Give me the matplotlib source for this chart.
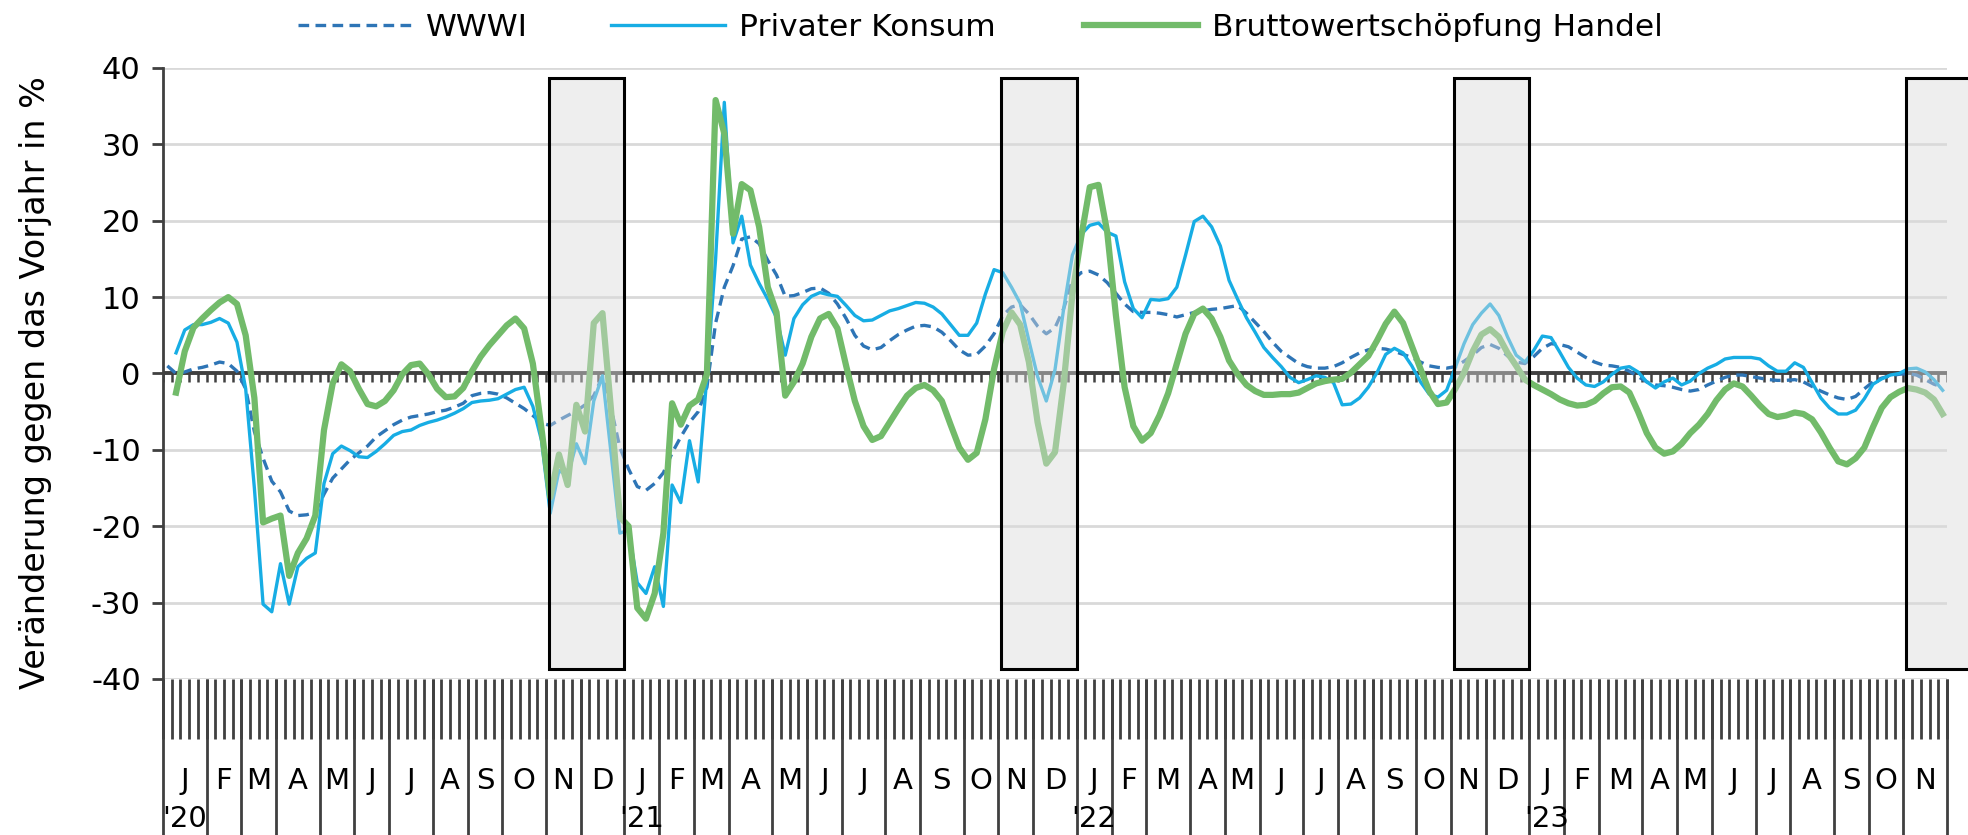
import numpy as np
import pandas as pd
import matplotlib
matplotlib.use('Agg')
import matplotlib.pyplot as plt
from matplotlib.patches import Rectangle
from matplotlib.lines import Line2D

plt.rcParams['font.family'] = ['DejaVu Sans']
plt.rcParams['axes.unicode_minus'] = False

# weekly data, ISO weeks from KW1/2020 to KW48/2023
first_week = '2019-12-30'
n_weeks = 205
month_letters = ['J', 'F', 'M', 'A', 'M', 'J', 'J', 'A', 'S', 'O', 'N', 'D']
year_labels = {2020: "'20", 2021: "'21", 2022: "'22", 2023: "'23"}
shaded_months = [11, 12]
series_names = ['WWWI', 'Privater Konsum', 'Bruttowertschöpfung Handel']

wwwi = [
	1.0, 0.0, 0.2, 0.6, 0.8, 1.1, 1.5, 1.3, 0.3, -2.0,
	-7.6, -11.1, -14.1, -15.5, -18.0, -18.6, -18.5, -18.2, -15.8, -13.7,
	-12.5, -11.3, -10.4, -9.5, -8.3, -7.5, -6.7, -6.1, -5.7, -5.5,
	-5.3, -5.0, -4.8, -4.4, -3.9, -2.9, -2.6, -2.5, -2.7, -3.2,
	-3.9, -4.6, -5.5, -6.5, -6.8, -6.1, -5.5, -4.9, -4.1, -2.9,
	-0.4, -4.6, -9.7, -12.5, -14.8, -15.3, -14.4, -13.0, -10.4, -8.3,
	-6.4, -5.0, -1.8, 6.6, 11.3, 14.1, 17.6, 17.9, 17.0, 14.8,
	12.9, 10.1, 10.2, 10.6, 11.1, 11.2, 10.5, 9.1, 7.2, 5.0,
	3.6, 3.1, 3.4, 4.3, 5.1, 5.7, 6.2, 6.3, 6.1, 5.4,
	4.3, 3.1, 2.4, 2.5, 3.6, 5.2, 7.6, 8.7, 9.0, 7.8,
	6.2, 5.2, 6.0, 8.5, 12.2, 13.2, 13.4, 12.9, 11.9, 10.5,
	9.1, 8.1, 8.0, 8.0, 7.9, 7.7, 7.4, 7.7, 8.0, 8.2,
	8.4, 8.5, 8.7, 8.9, 7.9, 6.7, 5.5, 4.1, 2.9, 2.1,
	1.3, 0.9, 0.7, 0.7, 0.9, 1.4, 2.1, 2.7, 3.1, 3.3,
	3.2, 2.9, 2.5, 2.1, 1.5, 1.0, 0.8, 0.7, 0.9, 1.6,
	2.4, 3.4, 3.8, 3.3, 2.3, 1.5, 1.3, 2.2, 3.3, 3.9,
	3.8, 3.5, 2.8, 2.1, 1.5, 1.1, 1.0, 0.8, 0.3, -0.4,
	-1.1, -1.5, -1.6, -1.8, -2.1, -2.3, -2.1, -1.5, -1.0, -0.5,
	-0.2, -0.2, -0.4, -0.6, -0.8, -0.9, -0.9, -0.8, -1.1, -1.7,
	-2.3, -2.8, -3.2, -3.4, -3.0, -2.0, -1.1, -0.6, -0.3, -0.1,
	0.0, -0.2, -0.8, -1.4, -1.8,
]

konsum = [
	np.nan, 2.7, 5.7, 6.4, 6.4, 6.7, 7.2, 6.6, 4.1, -2.0,
	-15.0, -30.2, -31.2, -24.9, -30.2, -25.3, -24.2, -23.5, -14.4, -10.5,
	-9.5, -10.1, -10.9, -11.0, -10.2, -9.2, -8.1, -7.6, -7.4, -6.8,
	-6.4, -6.1, -5.7, -5.2, -4.6, -3.8, -3.6, -3.5, -3.3, -2.7,
	-2.1, -1.8, -4.3, -8.8, -18.3, -12.7, -13.4, -9.2, -11.8, -3.6,
	-0.3, -10.6, -20.9, -20.5, -27.4, -28.8, -25.3, -30.5, -14.6, -16.9,
	-8.8, -14.2, -0.4, 15.0, 35.5, 17.1, 20.6, 14.2, 11.8, 9.7,
	7.3, 2.4, 7.2, 9.0, 10.1, 10.6, 10.3, 10.1, 8.9, 7.6,
	6.9, 7.0, 7.6, 8.2, 8.5, 8.9, 9.3, 9.2, 8.7, 7.8,
	6.4, 5.0, 5.0, 6.6, 10.4, 13.6, 13.2, 11.3, 9.2, 4.3,
	-0.4, -3.6, 0.5, 8.5, 15.5, 18.2, 19.4, 19.7, 18.5, 18.0,
	12.0, 8.5, 7.3, 9.7, 9.6, 9.8, 11.3, 15.5, 19.9, 20.6,
	19.2, 16.7, 12.2, 9.7, 7.3, 5.4, 3.4, 2.1, 0.9, -0.5,
	-1.2, -0.8, -0.3, -0.5, -1.2, -4.1, -4.0, -3.2, -1.8, 0.1,
	2.5, 3.3, 2.7, 1.0, -1.1, -2.7, -3.1, -2.2, 0.8, 3.9,
	6.4, 7.9, 9.1, 7.6, 4.8, 2.4, 1.5, 3.0, 4.9, 4.7,
	2.8, 0.8, -0.6, -1.5, -1.7, -1.1, -0.1, 0.7, 0.9, 0.2,
	-1.1, -1.9, -1.1, -0.6, -1.5, -1.0, 0.0, 0.7, 1.2, 1.9,
	2.1, 2.1, 2.1, 1.9, 1.0, 0.3, 0.3, 1.4, 0.8, -1.2,
	-3.2, -4.5, -5.3, -5.3, -4.8, -3.3, -1.4, -0.7, -0.2, 0.0,
	0.6, 0.7, 0.2, -0.8, -2.2,
]

handel = [
	np.nan, -2.5, 2.9, 6.0, 7.2, 8.3, 9.3, 10.0, 9.1, 5.0,
	-3.2, -19.5, -19.0, -18.6, -26.5, -23.5, -21.6, -18.6, -7.4, -1.3,
	1.2, 0.3, -2.0, -4.0, -4.3, -3.6, -2.2, -0.1, 1.1, 1.3,
	-0.1, -2.0, -3.1, -3.0, -1.9, 0.3, 2.2, 3.7, 5.0, 6.3,
	7.2, 5.9, 1.3, -7.3, -16.2, -10.6, -14.6, -4.1, -7.6, 6.6,
	7.9, -5.0, -18.8, -20.0, -30.7, -32.1, -28.8, -20.9, -3.9, -6.7,
	-4.2, -3.4, -0.1, 35.8, 31.4, 18.3, 24.8, 24.0, 19.2, 11.3,
	8.0, -2.9, -1.1, 1.3, 4.8, 7.2, 7.8, 5.9, 1.0, -3.6,
	-6.9, -8.7, -8.2, -6.4, -4.6, -2.9, -1.9, -1.5, -2.2, -3.6,
	-6.7, -9.7, -11.3, -10.4, -6.0, 0.6, 5.5, 8.0, 6.4, 1.5,
	-6.4, -11.8, -10.3, -1.3, 10.4, 17.8, 24.4, 24.7, 18.5, 7.6,
	-1.8, -6.9, -8.8, -7.8, -5.5, -2.6, 1.3, 5.2, 7.8, 8.5,
	7.2, 4.8, 1.7, -0.1, -1.5, -2.3, -2.8, -2.8, -2.7, -2.7,
	-2.5, -1.9, -1.3, -1.0, -0.8, -0.7, 0.1, 1.2, 2.3, 4.3,
	6.5, 8.1, 6.6, 3.6, 0.6, -2.3, -4.0, -3.8, -2.0, 0.1,
	2.9, 5.1, 5.8, 4.8, 2.7, 1.0, -0.8, -1.5, -2.1, -2.7,
	-3.4, -3.9, -4.2, -4.1, -3.6, -2.6, -1.8, -1.7, -2.5, -5.0,
	-7.8, -9.7, -10.5, -10.2, -9.2, -7.8, -6.7, -5.3, -3.5, -2.1,
	-1.3, -1.7, -2.9, -4.2, -5.3, -5.7, -5.5, -5.1, -5.3, -6.0,
	-7.7, -9.7, -11.5, -11.9, -11.1, -9.7, -7.0, -4.5, -3.1, -2.4,
	-1.9, -2.1, -2.5, -3.4, -5.3,
]

#*******************************************************************************
weeks = pd.date_range(first_week, periods=n_weeks, freq='7D')
thursday = weeks + pd.Timedelta(days=3)   # ISO week belongs to month of its Thursday
years = np.asarray(thursday.year)
months = np.asarray(thursday.month)
month_id = years * 12 + months - 1
x = np.arange(n_weeks) + 0.5

W, H = 1968, 835
fig = plt.figure(figsize=(W / 100, H / 100), dpi=100)
ax = fig.add_axes([163 / W, 156 / H, (1947 - 163) / W, (767 - 156) / H])
ax.set_xlim(0, n_weeks)
ax.set_ylim(-40, 40)

dark = '#404040'
for v in range(-40, 41, 10):
	if v != 0:
		ax.axhline(v, color='#D9D9D9', lw=2, zorder=1)
ax.axhline(0, color=dark, lw=2.8, zorder=2)
ax.vlines(np.arange(n_weeks + 1), -1.15, 0, color=dark, lw=1.8, zorder=2)

styles = [
	dict(color='#2E75B6', lw=2.4, dashes=(3.2, 1.9)),
	dict(color='#17ADE4', lw=2.4),
	dict(color='#72BB6A', lw=4.5),
]
for vals, st, z in zip([wwwi, konsum, handel], styles, [3, 4, 5]):
	ax.plot(x, vals, zorder=z, **st)

# shaded Nov/Dec periods
for yr in np.unique(years):
	idx = np.where((years == yr) & np.isin(months, shaded_months))[0]
	if len(idx) == 0:
		continue
	x0 = idx[0]
	x1 = idx[-1] + 1
	if x1 >= n_weeks:
		x1 = n_weeks + 5
	ax.add_patch(Rectangle((x0 + 0.3, -38.7), x1 - x0 - 0.3, 77.4,
		facecolor=(0.86, 0.86, 0.86, 0.45), edgecolor='black', lw=2.2,
		zorder=6, clip_on=False))

# axes styling
for s in ['top', 'right', 'bottom']:
	ax.spines[s].set_visible(False)
ax.spines['left'].set_color(dark)
ax.spines['left'].set_linewidth(2)
ax.set_xticks([])
ax.set_yticks(range(-40, 41, 10))
ax.tick_params(axis='y', length=8, width=2, color=dark, labelsize=22, pad=8)

# category axis below the plot
bounds = [0] + [i for i in range(1, n_weeks) if month_id[i] != month_id[i - 1]] + [n_weeks]
ax.vlines(np.arange(n_weeks + 1), -47.9, -40, color=dark, lw=2, clip_on=False)
ax.vlines(bounds, -62, -40, color=dark, lw=2, clip_on=False)
for a, b in zip(bounds[:-1], bounds[1:]):
	m = months[a]
	c = (a + b) / 2
	ax.text(c, -53.3, month_letters[m - 1], ha='center', va='center', fontsize=21, clip_on=False)
	if m == 1:
		ax.text(c, -58.3, year_labels[years[a]], ha='center', va='center', fontsize=21, clip_on=False)

fig.text(36 / W, 1 - 383 / H, 'Veränderung gegen das Vorjahr in %', rotation=90,
	ha='center', va='center', fontsize=24)

# legend drawn by hand so entries sit where they are in the original
leg_x = [298, 611, 1084]
for name, st, lx in zip(series_names, styles, leg_x):
	fig.add_artist(Line2D([lx / W, (lx + 114) / W], [1 - 25 / H, 1 - 25 / H],
		transform=fig.transFigure, **st))
	fig.text((lx + 128) / W, 1 - 36 / H, name, ha='left', va='baseline', fontsize=22.5)

fig.savefig('out.png', dpi=100)
